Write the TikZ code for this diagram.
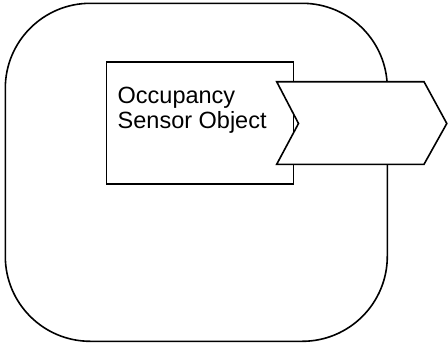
\documentclass[tikz,border=0pt]{standalone}
\usepackage{fontspec}
\setmainfont{Liberation Sans}
\begin{document}
\begin{tikzpicture}[x=1pt,y=-1pt,
  shapeline/.style={draw=black,line width=1.6pt,line join=miter},
  label/.style={font=\fontsize{23.5}{24.5}\selectfont,align=left,anchor=base west,inner sep=0pt}]
\useasboundingbox (0,0) rectangle (448,343);
\node[shapeline,rounded corners=85pt,minimum width=382pt,minimum height=338pt,anchor=north west,inner sep=0pt] (outer) at (4.5,2.5) {};
\node[shapeline,fill=white,minimum width=187pt,minimum height=122pt,anchor=north west,inner sep=0pt] (obj) at (105.8,61) {};
\node[label] (txt) at (117.5,128.3) {Occupancy\\Sensor Object};
\coordinate (c1) at (276.7,81.7);
\coordinate (c2) at (424,81.7);
\coordinate (c3) at (446.8,123.5);
\coordinate (c4) at (424,164.3);
\coordinate (c5) at (276.7,164.3);
\coordinate (c6) at (298.5,123.5);
\draw[shapeline,fill=white] (c1) -- (c2) -- (c3) -- (c4) -- (c5) -- (c6) -- cycle;
\end{tikzpicture}
\end{document}
